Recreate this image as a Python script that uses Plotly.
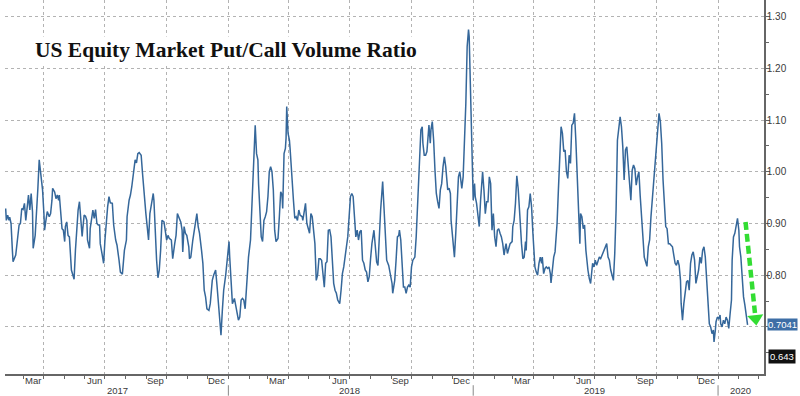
import plotly.graph_objects as go

# ---------------- data ----------------
dates = [
    "2017-02-03", "2017-02-04", "2017-02-06", "2017-02-08", "2017-02-09", "2017-02-11", "2017-02-13", "2017-02-14",
    "2017-02-18", "2017-02-20", "2017-02-23", "2017-02-25", "2017-02-27",
    "2017-03-01", "2017-03-03", "2017-03-05", "2017-03-07", "2017-03-09", "2017-03-11", "2017-03-13", "2017-03-15",
    "2017-03-16", "2017-03-19", "2017-03-21", "2017-03-23", "2017-03-25", "2017-03-28", "2017-03-30",
    "2017-04-01", "2017-04-02", "2017-04-04", "2017-04-06", "2017-04-09", "2017-04-11", "2017-04-13", "2017-04-14",
    "2017-04-17", "2017-04-19", "2017-04-21", "2017-04-23", "2017-04-24", "2017-04-26", "2017-04-28", "2017-04-30",
    "2017-05-02", "2017-05-03", "2017-05-05", "2017-05-07", "2017-05-09", "2017-05-12", "2017-05-14", "2017-05-16",
    "2017-05-18", "2017-05-20", "2017-05-22", "2017-05-24", "2017-05-26", "2017-05-28", "2017-05-29", "2017-05-31",
    "2017-06-02", "2017-06-04", "2017-06-05", "2017-06-08", "2017-06-09", "2017-06-11", "2017-06-13", "2017-06-15",
    "2017-06-17", "2017-06-19", "2017-06-21", "2017-06-23", "2017-06-24", "2017-06-27", "2017-06-29",
    "2017-07-01", "2017-07-03", "2017-07-05", "2017-07-07", "2017-07-09", "2017-07-12", "2017-07-14", "2017-07-17",
    "2017-07-19", "2017-07-22", "2017-07-24", "2017-07-27", "2017-07-30",
    "2017-08-02", "2017-08-03", "2017-08-06", "2017-08-08", "2017-08-10", "2017-08-13", "2017-08-15", "2017-08-17",
    "2017-08-19", "2017-08-21", "2017-08-24", "2017-08-26", "2017-08-29", "2017-08-31",
    "2017-09-02", "2017-09-04", "2017-09-06", "2017-09-08", "2017-09-11", "2017-09-12", "2017-09-14", "2017-09-16",
    "2017-09-18", "2017-09-20", "2017-09-22", "2017-09-24", "2017-09-27", "2017-09-29",
    "2017-10-01", "2017-10-03", "2017-10-05", "2017-10-08", "2017-10-10", "2017-10-13", "2017-10-15", "2017-10-17",
    "2017-10-19", "2017-10-22", "2017-10-24", "2017-10-25", "2017-10-27", "2017-10-29", "2017-10-31",
    "2017-11-03", "2017-11-04", "2017-11-06", "2017-11-09", "2017-11-11", "2017-11-13", "2017-11-15", "2017-11-17",
    "2017-11-19", "2017-11-22", "2017-11-24", "2017-11-26", "2017-11-28", "2017-11-30",
    "2017-12-03", "2017-12-05", "2017-12-08", "2017-12-10", "2017-12-13", "2017-12-15", "2017-12-17", "2017-12-19",
    "2017-12-21", "2017-12-23", "2017-12-25", "2017-12-28", "2017-12-30",
    "2018-01-02", "2018-01-03", "2018-01-05", "2018-01-07", "2018-01-10", "2018-01-12", "2018-01-14", "2018-01-16",
    "2018-01-18", "2018-01-20", "2018-01-22", "2018-01-24", "2018-01-26", "2018-01-29", "2018-01-31",
    "2018-02-03", "2018-02-05", "2018-02-08", "2018-02-10", "2018-02-12", "2018-02-14", "2018-02-15", "2018-02-17",
    "2018-02-19", "2018-02-21", "2018-02-23", "2018-02-25", "2018-02-27",
    "2018-03-01", "2018-03-03", "2018-03-05", "2018-03-07", "2018-03-09", "2018-03-11", "2018-03-13", "2018-03-16",
    "2018-03-18", "2018-03-20", "2018-03-22", "2018-03-23", "2018-03-25", "2018-03-27", "2018-03-28", "2018-03-29",
    "2018-03-31",
    "2018-04-02", "2018-04-03", "2018-04-05", "2018-04-07", "2018-04-08", "2018-04-10", "2018-04-12", "2018-04-14",
    "2018-04-16", "2018-04-18", "2018-04-21", "2018-04-22", "2018-04-24", "2018-04-26", "2018-04-28", "2018-04-30",
    "2018-05-02", "2018-05-04", "2018-05-06", "2018-05-08", "2018-05-10", "2018-05-12", "2018-05-14", "2018-05-16",
    "2018-05-18", "2018-05-20", "2018-05-22", "2018-05-24", "2018-05-26", "2018-05-28", "2018-05-30",
    "2018-06-01", "2018-06-03", "2018-06-05", "2018-06-07", "2018-06-09", "2018-06-11", "2018-06-13", "2018-06-16",
    "2018-06-18", "2018-06-20", "2018-06-22", "2018-06-24", "2018-06-26", "2018-06-28", "2018-06-30",
    "2018-07-02", "2018-07-04", "2018-07-06", "2018-07-08", "2018-07-10", "2018-07-12", "2018-07-14", "2018-07-16",
    "2018-07-18", "2018-07-20", "2018-07-22", "2018-07-24", "2018-07-26", "2018-07-28", "2018-07-30",
    "2018-08-01", "2018-08-03", "2018-08-06", "2018-08-08", "2018-08-10", "2018-08-12", "2018-08-14", "2018-08-16",
    "2018-08-19", "2018-08-21", "2018-08-23", "2018-08-25", "2018-08-28", "2018-08-30",
    "2018-09-02", "2018-09-03", "2018-09-06", "2018-09-08", "2018-09-10", "2018-09-12", "2018-09-13", "2018-09-15",
    "2018-09-17", "2018-09-19", "2018-09-21", "2018-09-23", "2018-09-25", "2018-09-27", "2018-09-29",
    "2018-10-01", "2018-10-03", "2018-10-06", "2018-10-08", "2018-10-10", "2018-10-13", "2018-10-15", "2018-10-17",
    "2018-10-18", "2018-10-20", "2018-10-22", "2018-10-24", "2018-10-26", "2018-10-27", "2018-10-29", "2018-10-30",
    "2018-11-01", "2018-11-03", "2018-11-05", "2018-11-07", "2018-11-09", "2018-11-11", "2018-11-13", "2018-11-15",
    "2018-11-17", "2018-11-19", "2018-11-21", "2018-11-23", "2018-11-24", "2018-11-26", "2018-11-28", "2018-11-29",
    "2018-12-01", "2018-12-03", "2018-12-04", "2018-12-06", "2018-12-08", "2018-12-10", "2018-12-12", "2018-12-14",
    "2018-12-15", "2018-12-17", "2018-12-19", "2018-12-21", "2018-12-23", "2018-12-25", "2018-12-26", "2018-12-28",
    "2018-12-29", "2018-12-31",
    "2019-01-01", "2019-01-03", "2019-01-04", "2019-01-06", "2019-01-08", "2019-01-10", "2019-01-12", "2019-01-14",
    "2019-01-15", "2019-01-17", "2019-01-19", "2019-01-21", "2019-01-23", "2019-01-25", "2019-01-27", "2019-01-29",
    "2019-01-31",
    "2019-02-02", "2019-02-04", "2019-02-06", "2019-02-08", "2019-02-10", "2019-02-12", "2019-02-14", "2019-02-16",
    "2019-02-18", "2019-02-19", "2019-02-21", "2019-02-23", "2019-02-25", "2019-02-28",
    "2019-03-01", "2019-03-03", "2019-03-05", "2019-03-07", "2019-03-09", "2019-03-11", "2019-03-12", "2019-03-14",
    "2019-03-16", "2019-03-18", "2019-03-20", "2019-03-21", "2019-03-23", "2019-03-25", "2019-03-27", "2019-03-29",
    "2019-03-31",
    "2019-04-01", "2019-04-03", "2019-04-05", "2019-04-07", "2019-04-09", "2019-04-11", "2019-04-13", "2019-04-14",
    "2019-04-16", "2019-04-18", "2019-04-20", "2019-04-22", "2019-04-24", "2019-04-26", "2019-04-27", "2019-04-29",
    "2019-05-01", "2019-05-03", "2019-05-06", "2019-05-08", "2019-05-10", "2019-05-12", "2019-05-14", "2019-05-16",
    "2019-05-18", "2019-05-20", "2019-05-22", "2019-05-24", "2019-05-26", "2019-05-28", "2019-05-30",
    "2019-06-01", "2019-06-03", "2019-06-05", "2019-06-07", "2019-06-09", "2019-06-10", "2019-06-12", "2019-06-14",
    "2019-06-16", "2019-06-18", "2019-06-20", "2019-06-21", "2019-06-23", "2019-06-25", "2019-06-27", "2019-06-28",
    "2019-06-30",
    "2019-07-02", "2019-07-04", "2019-07-06", "2019-07-08", "2019-07-10", "2019-07-12", "2019-07-14", "2019-07-17",
    "2019-07-19", "2019-07-21", "2019-07-23", "2019-07-25", "2019-07-27", "2019-07-29", "2019-07-31",
    "2019-08-02", "2019-08-04", "2019-08-06", "2019-08-08", "2019-08-10", "2019-08-12", "2019-08-14", "2019-08-16",
    "2019-08-18", "2019-08-20", "2019-08-22", "2019-08-24", "2019-08-26", "2019-08-28", "2019-08-30",
    "2019-09-01", "2019-09-03", "2019-09-05", "2019-09-07", "2019-09-09", "2019-09-11", "2019-09-13", "2019-09-15",
    "2019-09-17", "2019-09-19", "2019-09-21", "2019-09-23", "2019-09-25", "2019-09-27", "2019-09-29",
    "2019-10-01", "2019-10-03", "2019-10-05", "2019-10-07", "2019-10-09", "2019-10-11", "2019-10-13", "2019-10-15",
    "2019-10-17", "2019-10-19", "2019-10-21", "2019-10-23", "2019-10-25", "2019-10-27", "2019-10-29", "2019-10-31",
    "2019-11-02", "2019-11-04", "2019-11-06", "2019-11-07", "2019-11-09", "2019-11-11", "2019-11-13", "2019-11-15",
    "2019-11-17", "2019-11-19", "2019-11-21", "2019-11-23", "2019-11-25", "2019-11-27", "2019-11-29",
    "2019-12-01", "2019-12-03", "2019-12-05", "2019-12-07", "2019-12-09", "2019-12-11", "2019-12-13", "2019-12-15",
    "2019-12-17", "2019-12-19", "2019-12-21", "2019-12-23", "2019-12-25", "2019-12-26", "2019-12-28", "2019-12-29",
    "2019-12-31",
    "2020-01-02", "2020-01-04", "2020-01-05", "2020-01-07", "2020-01-09", "2020-01-11", "2020-01-13", "2020-01-15",
    "2020-01-17", "2020-01-19", "2020-01-21", "2020-01-22", "2020-01-24", "2020-01-26", "2020-01-28", "2020-01-30",
    "2020-02-01", "2020-02-02", "2020-02-04", "2020-02-06", "2020-02-08", "2020-02-10", "2020-02-12", "2020-02-14",
]

put_call = [
    0.929, 0.906, 0.916, 0.906, 0.912, 0.900, 0.848, 0.826,
    0.839, 0.861, 0.897, 0.900, 0.929,
    0.927, 0.939, 0.906, 0.932, 0.955, 0.926, 0.958, 0.923,
    0.852, 0.877, 0.913, 0.968, 1.023, 0.990, 0.965,
    0.919, 0.887, 0.906, 0.923, 0.913, 0.919, 0.945, 0.968,
    0.961, 0.948, 0.955, 0.945, 0.955, 0.923, 0.890, 0.887,
    0.865, 0.894, 0.903, 0.877, 0.874, 0.810, 0.800, 0.792,
    0.848, 0.900, 0.926, 0.942, 0.906, 0.875, 0.890, 0.916,
    0.914, 0.906, 0.868, 0.852, 0.890, 0.906, 0.926, 0.910,
    0.927, 0.900, 0.897, 0.897, 0.861, 0.839, 0.823,
    0.868, 0.906, 0.932, 0.952, 0.940, 0.939, 0.897, 0.868,
    0.858, 0.829, 0.806, 0.802, 0.848,
    0.868, 0.913, 0.945, 0.955, 0.971, 1.010, 1.023, 1.017,
    1.035, 1.037, 1.032, 0.997, 0.939, 0.919,
    0.894, 0.868, 0.919, 0.932, 0.958, 0.945, 0.881, 0.829,
    0.795, 0.810, 0.848, 0.906, 0.903, 0.887,
    0.868, 0.877, 0.871, 0.868, 0.832, 0.861, 0.877, 0.919,
    0.913, 0.903, 0.887, 0.845, 0.894, 0.881, 0.877,
    0.855, 0.832, 0.835, 0.868, 0.887, 0.910, 0.919, 0.894,
    0.881, 0.848, 0.823, 0.771, 0.758, 0.735,
    0.732, 0.745, 0.790, 0.800, 0.810, 0.781, 0.748, 0.726,
    0.684, 0.732, 0.771, 0.800, 0.826,
    0.865, 0.835, 0.797, 0.745, 0.755, 0.739, 0.723, 0.713,
    0.719, 0.752, 0.755, 0.752, 0.735, 0.797, 0.835,
    0.868, 0.932, 0.997, 1.090, 1.035, 1.023, 0.977, 0.926,
    0.874, 0.865, 0.906, 0.913, 0.923,
    0.952, 1.000, 1.010, 1.000, 0.965, 0.887, 0.865, 0.871,
    0.913, 0.961, 0.955, 0.929, 1.035, 1.045, 1.065, 1.126,
    1.074,
    1.061, 1.045, 0.994, 0.971, 0.945, 0.910, 0.913, 0.906,
    0.926, 0.916, 0.913, 0.906, 0.926, 0.939, 0.900, 0.887,
    0.881, 0.919, 0.913, 0.887, 0.861, 0.790, 0.800, 0.832,
    0.832, 0.829, 0.806, 0.777, 0.823, 0.826, 0.887,
    0.888, 0.874, 0.829, 0.784, 0.771, 0.765, 0.752, 0.745,
    0.771, 0.803, 0.816, 0.832, 0.855, 0.874, 0.919,
    0.952, 0.958, 0.952, 0.913, 0.874, 0.887, 0.868, 0.884,
    0.887, 0.829, 0.823, 0.810, 0.806, 0.787, 0.797,
    0.832, 0.861, 0.887, 0.852, 0.826, 0.819, 0.881, 0.926,
    0.981, 0.932, 0.874, 0.829, 0.819, 0.803,
    0.784, 0.765, 0.790, 0.829, 0.874, 0.877, 0.887, 0.868,
    0.816, 0.777, 0.777, 0.765, 0.777, 0.781, 0.777,
    0.816, 0.829, 0.835, 0.874, 0.932, 1.023, 1.081, 1.087,
    1.055, 1.032, 1.032, 1.039, 1.068, 1.090, 1.055, 1.081,
    1.097, 1.061, 1.003, 0.958, 0.942, 0.929, 0.965, 0.977,
    1.010, 1.029, 1.010, 0.984, 0.965, 0.968, 0.958, 0.906,
    0.881, 0.855, 0.835, 0.881, 0.932, 0.990, 1.000, 0.984,
    0.968, 0.990, 1.048, 1.132, 1.242, 1.275, 1.261, 1.165,
    1.068, 0.997,
    0.945, 0.977, 0.952, 0.939, 0.919, 0.894, 0.945, 0.984,
    1.000, 0.965, 0.919, 0.942, 0.942, 0.990, 0.977, 0.887,
    0.919,
    0.874, 0.855, 0.887, 0.890, 0.881, 0.874, 0.861, 0.839,
    0.855, 0.861, 0.842, 0.855, 0.861, 0.865,
    0.894, 0.906, 0.939, 0.992, 0.968, 0.926, 0.894, 0.861,
    0.832, 0.835, 0.865, 0.848, 0.926, 0.932, 0.958, 0.932,
    0.881,
    0.861, 0.816, 0.806, 0.800, 0.823, 0.835, 0.823, 0.835,
    0.803, 0.813, 0.816, 0.813, 0.816, 0.803, 0.785, 0.810,
    0.835, 0.845, 0.900, 0.965, 1.035, 1.087, 1.074, 1.039,
    1.042, 1.000, 0.987, 1.032, 1.016, 1.090, 1.094,
    1.113, 1.061, 0.990, 0.926, 0.861, 0.919, 0.913, 0.890,
    0.897, 0.848, 0.810, 0.810, 0.794, 0.784, 0.810, 0.823,
    0.816,
    0.829, 0.819, 0.829, 0.835, 0.832, 0.839, 0.842, 0.855,
    0.861, 0.835, 0.829, 0.810, 0.800, 0.790, 0.842,
    0.926, 1.061, 1.081, 1.106, 1.087, 1.048, 0.984, 1.042,
    1.048, 1.010, 0.990, 0.945, 1.003, 1.013, 1.006,
    0.974, 0.990, 1.000, 0.952, 0.913, 0.868, 0.835, 0.826,
    0.817, 0.855, 0.868, 0.913, 0.945, 0.984, 1.010,
    1.039, 1.074, 1.113, 1.097, 1.055, 0.984, 0.932, 0.894,
    0.890, 0.861, 0.861, 0.858, 0.855, 0.839, 0.823, 0.819,
    0.829, 0.819, 0.790, 0.745, 0.713, 0.745, 0.771, 0.787,
    0.790, 0.771, 0.823, 0.839, 0.845, 0.829, 0.784,
    0.797, 0.810, 0.835, 0.823, 0.848, 0.855, 0.835, 0.784,
    0.752, 0.706, 0.700, 0.687, 0.694, 0.671, 0.694, 0.710,
    0.719,
    0.716, 0.723, 0.706, 0.700, 0.713, 0.706, 0.719, 0.713,
    0.697, 0.726, 0.752, 0.829, 0.874, 0.881, 0.900, 0.910,
    0.887, 0.855, 0.835, 0.797, 0.758, 0.742, 0.726, 0.7041,
]

last_value_label = 0.7041
second_value_label = 0.643

y_tick_values = [0.70, 0.80, 0.90, 1.00, 1.10, 1.20, 1.30]
y_tick_text = ["", "0.80", "0.90", "1.00", "1.10", "1.20", "1.30"]

month_label_dates = ["2017-03-15", "2017-06-15", "2017-09-15", "2017-12-15",
                     "2018-03-15", "2018-06-15", "2018-09-15", "2018-12-15",
                     "2019-03-15", "2019-06-15", "2019-09-15", "2019-12-15"]
month_labels = ["Mar", "Jun", "Sep", "Dec"] * 3
year_label_dates = ["2017-07-19", "2018-07-01", "2019-07-01", "2020-02-04"]
year_labels = ["2017", "2018", "2019", "2020"]
year_breaks = ["2018-01-01", "2019-01-01", "2020-01-01"]

arrow_dates = ["2020-02-11", "2020-02-25"]
arrow_values = [0.903, 0.727]
arrow_tip_date = "2020-02-26"
arrow_tip_value = 0.716

# ---------------- figure ----------------
LINE = "#35679a"
GREEN = "#33dd33"
GRID = "#b3b3b3"
AXIS = "#666666"
TXT = "#3a3a3a"
SANS = "Liberation Sans, Arial, sans-serif"

fig = go.Figure()
fig.add_trace(go.Scatter(x=dates, y=put_call, mode="lines",
                         line=dict(color=LINE, width=1.5), hoverinfo="skip"))
fig.add_trace(go.Scatter(x=arrow_dates, y=arrow_values, mode="lines",
                         line=dict(color=GREEN, width=4.5, dash="8px,4px"), hoverinfo="skip"))
fig.add_trace(go.Scatter(x=[arrow_tip_date], y=[arrow_tip_value], mode="markers",
                         marker=dict(symbol="triangle-down", size=14, color=GREEN, angle=-6,
                                     line=dict(width=0)),
                         hoverinfo="skip"))

annotations = []
annotations.append(dict(xref="paper", yref="paper", x=0.037, y=0.866, xanchor="left", yanchor="middle",
                        text="<b>US Equity Market Put/Call Volume Ratio</b>", showarrow=False,
                        bgcolor="white", borderpad=1,
                        font=dict(family="Liberation Serif, Times New Roman, serif", size=21.5, color="#111111")))
for d, t in zip(month_label_dates, month_labels):
    annotations.append(dict(xref="x", yref="paper", x=d, y=-0.017, xanchor="center", yanchor="middle",
                            text=t, showarrow=False, font=dict(family=SANS, size=9.5, color=TXT)))
for d, t in zip(year_label_dates, year_labels):
    annotations.append(dict(xref="x", yref="paper", x=d, y=-0.043, xanchor="center", yanchor="middle",
                            text=t, showarrow=False, font=dict(family=SANS, size=9.5, color=TXT)))
annotations.append(dict(xref="paper", yref="y", x=1, y=last_value_label, xanchor="left", yanchor="middle",
                        xshift=3, text=f"{last_value_label:.4f}", showarrow=False,
                        bgcolor="#3d6ea6", borderpad=0,
                        font=dict(family=SANS, size=9.5, color="white")))
annotations.append(dict(xref="paper", yref="y", x=1, y=second_value_label, xanchor="left", yanchor="middle",
                        xshift=4, text=f"{second_value_label:.3f}", showarrow=False,
                        bgcolor="#111111", borderpad=1,
                        font=dict(family=SANS, size=9.5, color="white")))

shapes = []
for d in year_breaks:
    shapes.append(dict(type="line", xref="x", yref="paper", x0=d, x1=d, y0=-0.03, y1=-0.058,
                       line=dict(color="#888888", width=1)))

fig.update_layout(
    width=800, height=396,
    margin=dict(l=5, r=36, t=0, b=22),
    paper_bgcolor="white", plot_bgcolor="white",
    showlegend=False,
    annotations=annotations,
    shapes=shapes,
    xaxis=dict(type="date", range=["2017-02-02", "2020-03-09 12:00"],
               tick0="2017-01-01", dtick="M3", showticklabels=False,
               ticks="outside", ticklen=3, tickcolor=AXIS,
               showgrid=True, gridcolor=GRID, griddash="dot", gridwidth=1,
               showline=True, linecolor=AXIS, linewidth=1.5, zeroline=False,
               minor=dict(tick0="2017-01-01", dtick="M1", ticks="outside", ticklen=3,
                          tickcolor=AXIS, showgrid=False)),
    yaxis=dict(side="right", range=[0.609, 1.332], tickmode="array",
               tickvals=y_tick_values, ticktext=y_tick_text,
               ticks="outside", ticklen=4, tickcolor=AXIS, ticklabelstandoff=-5,
               tickfont=dict(family=SANS, size=10, color=TXT),
               showgrid=True, gridcolor=GRID, griddash="dot", gridwidth=1,
               showline=True, linecolor=AXIS, linewidth=1.5, zeroline=False,
               minor=dict(dtick=0.05, tick0=0.7, ticks="outside", ticklen=3,
                          tickcolor=AXIS, showgrid=False)),
)

fig.write_html("out.html", config={"displayModeBar": False},
               post_script="document.body.style.margin='0';")
